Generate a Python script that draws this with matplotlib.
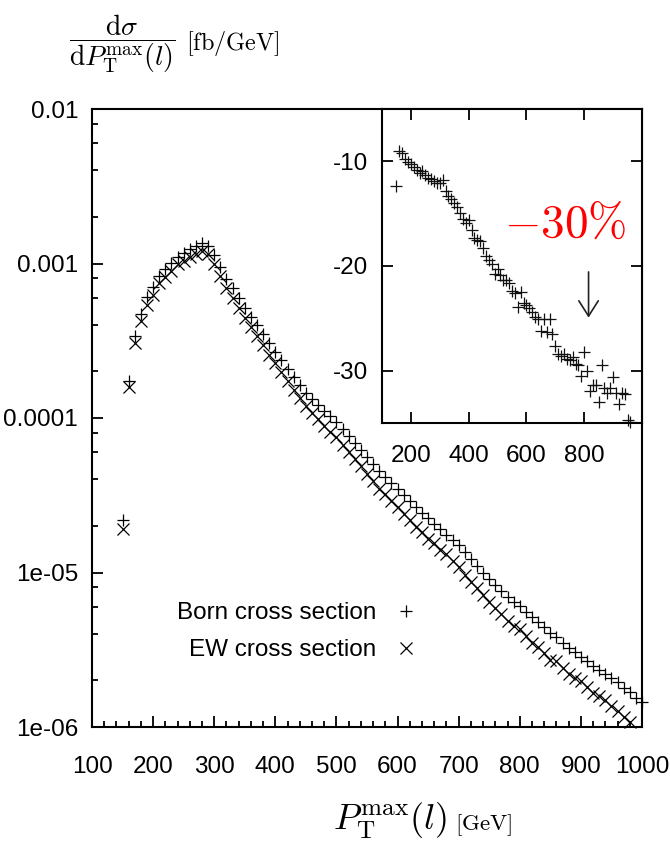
import matplotlib
matplotlib.use("Agg")
import matplotlib.pyplot as plt
import numpy as np
from matplotlib.ticker import MultipleLocator, LogLocator, NullFormatter
from matplotlib.lines import Line2D

plt.rcParams['font.family'] = ['Liberation Sans', 'DejaVu Sans']
plt.rcParams['mathtext.fontset'] = 'cm'
plt.rcParams['axes.unicode_minus'] = False

# bins of the leading lepton pT, 10 GeV steps
pt = np.arange(150, 1001, 10)

# log10 of the Born cross section dsigma/dPT [fb/GeV]
born_log = [-4.66, -3.76, -3.47, -3.33, -3.22, -3.155, -3.08, -3.035, -2.995, -2.955,
            -2.93, -2.905, -2.885, -2.865, -2.885,
            -2.945, -3.025, -3.10, -3.16, -3.225, -3.285, -3.345, -3.40, -3.455, -3.515,
            -3.57, -3.625, -3.68, -3.735, -3.785, -3.835, -3.875, -3.915, -3.955, -3.99,
            -4.025, -4.07, -4.115, -4.16, -4.205, -4.25, -4.295, -4.34, -4.38, -4.42,
            -4.46, -4.50, -4.54, -4.578, -4.615, -4.65, -4.685, -4.72, -4.755, -4.79,
            -4.825, -4.87, -4.912, -4.955, -5.0, -5.04, -5.08, -5.12, -5.16, -5.19,
            -5.22, -5.255, -5.288, -5.32, -5.355, -5.39, -5.42, -5.455, -5.487, -5.515,
            -5.545, -5.575, -5.605, -5.63, -5.655, -5.68, -5.71, -5.745, -5.775, -5.81,
            -5.84]

# relative EW correction in % (inset)
delta = [-12.4, -9.0, -9.2, -9.8, -10.1, -10.3, -10.5, -10.8, -11.1, -10.9,
         -11.3, -11.6, -11.7, -11.9, -12.1,
         -12.1, -11.8, -12.8, -13.3, -13.6, -14.0, -14.4, -14.9, -15.5, -15.9,
         -15.6, -16.6, -17.3, -17.5, -17.6, -18.3, -19.0, -19.4, -19.8, -20.8,
         -20.3, -20.9, -21.3, -21.3, -21.6, -22.4, -22.6, -23.9, -22.5, -23.5,
         -23.7, -24.0, -24.4, -24.9, -25.1, -26.2, -25.1, -26.3, -25.1, -26.5,
         -27.6, -28.4, -28.6, -28.4, -28.9, -29.0, -28.7, -29.4, -29.5, -30.5,
         -28.2, -30.0, -31.9, -31.4, -31.4, -33.0, -29.5, -31.7, -32.1, -31.7,
         -30.6, -32.1, -33.2, -32.1, -32.2, -34.7, -34.9, -35.3, -35.6, -36.1,
         -36.4]

born = 10 ** np.array(born_log)
delta = np.array(delta)
ew = born * (1 + delta / 100)

ytick_vals = [1e-6, 1e-5, 1e-4, 1e-3, 1e-2]
ytick_labels = ['1e-06', '1e-05', '0.0001', '0.001', '0.01']

fig = plt.figure(figsize=(6.7, 8.42), dpi=100)
W, H = 670, 842
FS = 17.5

ax = fig.add_axes([92 / W, 1 - 727 / H, 550 / W, 618 / H])
ax.set_yscale('log')
ax.set_xlim(100, 1000)
ax.set_ylim(1e-6, 1e-2)

ms = dict(color='black', linestyle='none', markersize=9, markeredgewidth=0.9, clip_on=False)
ax.plot(pt, born, marker='+', **ms)
keep = ew >= 1e-6
ax.plot(pt[keep], ew[keep], marker='x', **ms)

ax.xaxis.set_major_locator(MultipleLocator(100))
ax.xaxis.set_minor_locator(MultipleLocator(20))
ax.set_yticks(ytick_vals, labels=ytick_labels)
ax.yaxis.set_minor_locator(LogLocator(base=10, subs=[2, 4, 6, 8]))
ax.yaxis.set_minor_formatter(NullFormatter())
ax.tick_params(which='both', direction='in', top=False, right=False, width=1.3)
ax.tick_params(which='major', length=8, labelsize=FS)
ax.tick_params(which='minor', length=4)
ax.tick_params(axis='x', which='major', pad=21)
ax.tick_params(axis='y', which='major', pad=10)
for s in ax.spines.values():
    s.set_linewidth(1.5)

handles = [Line2D([], [], marker='+', color='black', linestyle='none', markersize=9, markeredgewidth=0.9),
           Line2D([], [], marker='x', color='black', linestyle='none', markersize=9, markeredgewidth=0.9)]
ax.legend(handles, ['Born cross section', 'EW cross section'], loc='upper right',
          bbox_to_anchor=(418 / W, 1 - 602 / H), bbox_transform=fig.transFigure,
          frameon=False, markerfirst=False, alignment='right', fontsize=FS,
          handlelength=1.0, handletextpad=0.7, labelspacing=0.62, borderpad=0, borderaxespad=0)

# axis titles
fig.text(122 / W, 1 - 44 / H, r'$\dfrac{\mathrm{d}\sigma}{\mathrm{d}P_{\mathrm{T}}^{\mathrm{max}}(l)}$',
         fontsize=20, ha='center', va='center')
fig.text(186 / W, 1 - 44 / H, r'$[\mathrm{fb/GeV}]$', fontsize=17.5, ha='left', va='center')
fig.text(333 / W, 1 - 830 / H, r'$P_{\mathrm{T}}^{\mathrm{max}}(l)$', fontsize=26, ha='left', va='baseline')
fig.text(455 / W, 1 - 830 / H, r'$[\mathrm{GeV}]$', fontsize=16.5, ha='left', va='baseline')

# inset: relative correction
axin = fig.add_axes([382 / W, 1 - 423 / H, 260 / W, 314 / H])
axin.set_xlim(100, 1000)
axin.set_ylim(-35, -5)
keep_in = delta >= -35
axin.plot(pt[keep_in], delta[keep_in], marker='+', color='#111111', linestyle='none',
          markersize=8, markeredgewidth=0.9, clip_on=False)
axin.set_xticks([200, 400, 600, 800])
axin.set_yticks([-10, -20, -30])
axin.tick_params(direction='in', top=True, right=True, length=8, width=1.3, labelsize=FS)
axin.tick_params(axis='x', pad=16)
axin.tick_params(axis='y', pad=10)
for s in axin.spines.values():
    s.set_linewidth(1.5)

axin.text(734, -16.1, r'$-30\%$', color='red', fontsize=34, ha='center', va='center')
axin.annotate('', xy=(815, -25.2), xytext=(815, -20.3),
              arrowprops=dict(arrowstyle='->,head_length=0.55,head_width=0.35',
                              color='#222222', lw=1.2, mutation_scale=20))

fig.savefig('out.png', dpi=100)
